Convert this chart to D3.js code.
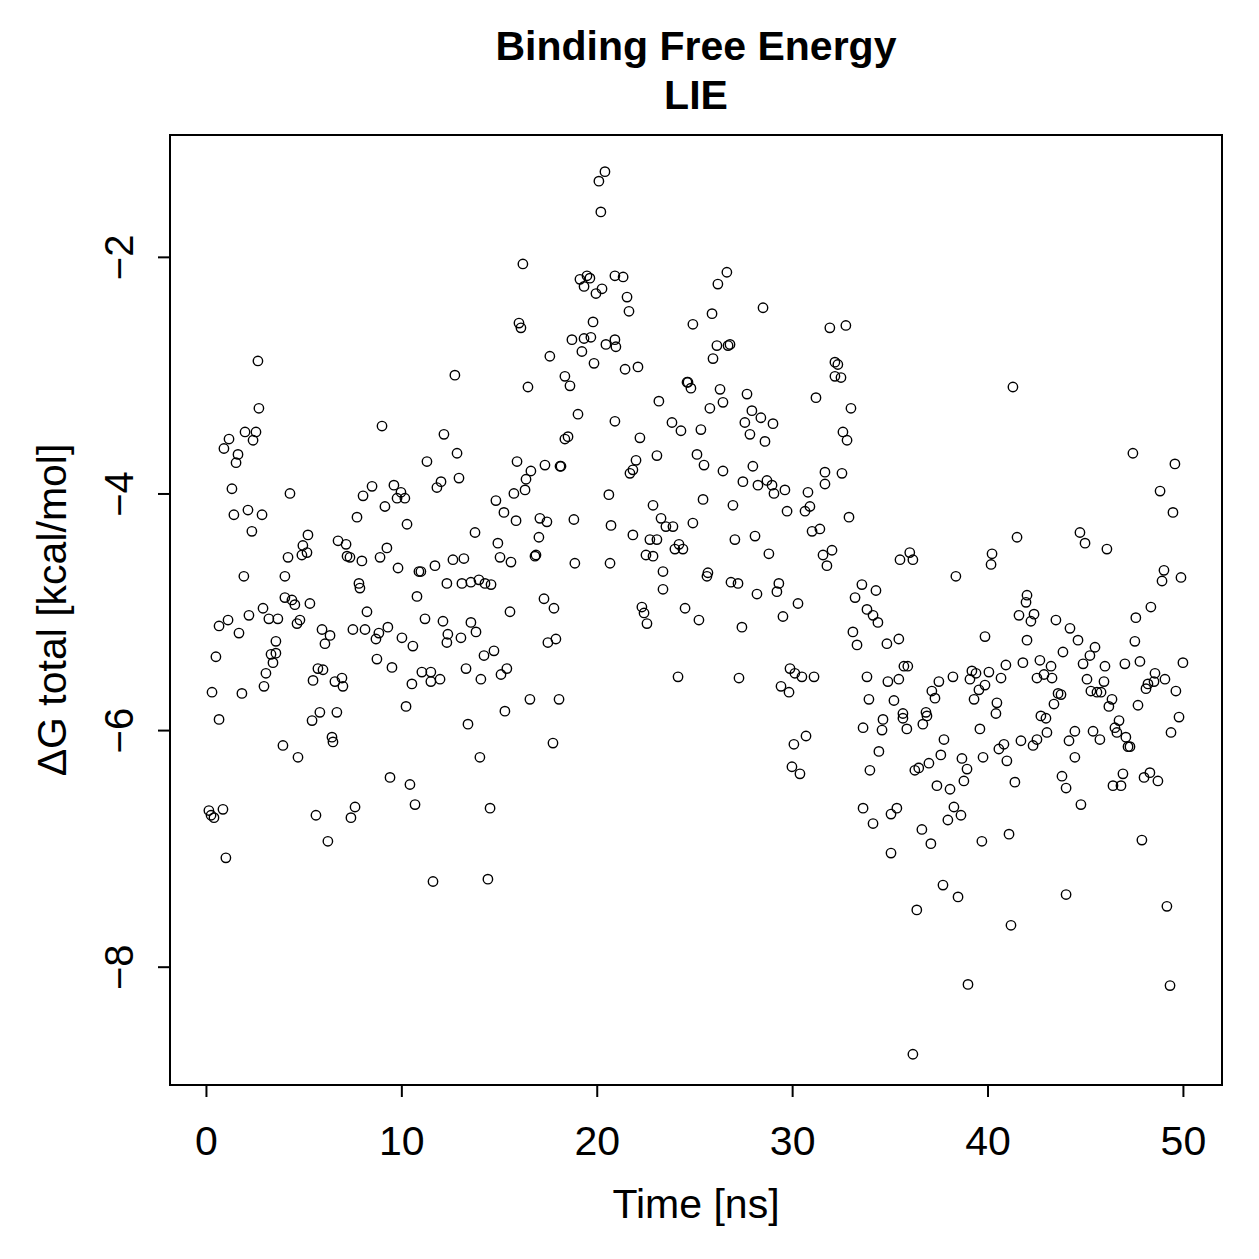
<!DOCTYPE html>
<html><head><meta charset="utf-8">
<script src="https://cdn.jsdelivr.net/npm/d3@7"></script>
<style>html,body{margin:0;padding:0;background:#fff}svg{display:block}</style>
</head><body>
<script>
const titleLines = ["Binding Free Energy", "LIE"];
const xLabel = "Time [ns]";
const yLabel = "\u0394G total [kcal/mol]";
const xTicks = [0, 10, 20, 30, 40, 50];
const yTicks = [-2, -4, -6, -8];

const time = [
0.15,0.26,0.41,0.87,1.02,0.31,0.51,0.67,0.67,0.92,1.13,1.18,1.33,1.43,1.54,1.64,1.69,1.84,1.94,2.00,2.15,2.20,2.35,2.41,2.56,2.66,2.71,2.87,2.92,2.97,3.07,3.22,3.33,3.43,3.58,3.58,3.68,
3.94,4.04,4.04,4.20,4.30,4.40,4.55,4.66,4.71,4.81,4.91,4.96,5.17,5.22,5.32,5.43,5.48,5.63,5.73,5.83,5.94,5.99,6.09,6.24,6.35,6.45,6.50,6.60,6.70,6.76,6.96,7.01,7.17,7.22,7.37,7.42,7.52,7.63,7.73,7.83,7.88,7.98,8.04,8.14,8.24,
8.50,8.70,8.75,8.85,8.91,9.01,9.16,9.26,9.31,9.42,9.52,9.62,9.78,9.83,9.98,10.03,10.18,10.24,10.29,10.44,10.54,10.59,10.70,10.80,10.90,11.00,11.05,11.21,11.31,11.51,11.51,11.62,11.72,11.82,11.98,12.03,12.13,12.18,12.33,12.38,12.33,
12.64,12.74,12.85,12.95,13.05,13.10,13.20,13.31,13.41,13.56,13.56,13.77,13.82,13.97,14.02,14.07,14.23,14.28,14.43,14.54,14.59,14.74,14.84,14.94,15.05,15.10,15.25,15.30,15.40,15.56,15.61,15.76,15.87,15.92,16.02,16.12,16.22,16.33,16.38,16.48,16.58,16.63,
16.84,16.89,17.04,17.09,17.30,17.35,17.45,17.50,17.60,17.76,17.81,17.91,18.07,18.12,18.17,18.37,18.37,18.53,18.63,18.73,18.83,18.88,19.04,19.14,19.24,19.35,19.35,19.50,19.65,19.70,19.81,19.86,19.96,20.27,20.47,20.62,20.68,20.73,20.93,20.93,20.98,20.93,
20.11,20.21,20.42,21.35,21.45,21.55,21.65,21.70,21.85,21.85,22.01,22.11,22.21,22.31,22.42,22.57,22.52,22.72,22.88,22.88,23.08,23.08,23.18,23.29,23.39,23.39,23.54,
23.85,23.90,24.00,24.16,24.21,24.31,24.41,24.52,24.62,24.67,24.82,24.92,24.92,25.13,25.23,25.33,25.44,25.49,25.64,25.69,25.79,25.90,25.95,26.15,26.20,26.31,26.46,26.46,26.66,26.72,26.82,26.87,26.97,27.07,27.23,27.28,
27.43,27.48,27.58,27.69,27.84,27.94,27.99,28.10,28.20,28.25,28.40,28.51,28.61,28.71,28.81,28.97,29.02,29.07,29.22,29.32,29.43,29.53,29.63,29.74,29.84,29.89,29.99,30.09,30.14,30.30,30.40,30.50,30.66,30.71,30.81,30.91,31.02,31.12,31.22,31.42,
31.58,31.68,31.68,31.78,31.93,32.04,32.19,32.19,32.34,32.50,32.55,32.60,32.75,32.81,32.91,33.01,33.11,33.22,33.32,33.57,33.63,33.63,33.83,33.83,33.93,33.98,34.14,34.14,34.29,34.39,34.44,34.60,34.65,34.85,34.90,35.06,35.06,35.21,35.36,35.46,35.46,35.52,35.67,35.67,35.72,
35.87,35.92,36.02,36.18,36.18,36.28,36.38,36.48,36.64,36.69,36.85,36.90,37.00,37.10,37.15,37.31,37.41,37.51,37.61,37.72,37.77,37.97,38.08,38.23,38.28,38.38,38.49,38.64,38.69,38.79,38.95,39.00,39.10,39.20,39.31,39.41,39.56,39.61,39.71,39.77,39.87,39.87,
40.07,40.18,40.23,40.43,40.48,40.58,40.69,40.84,40.94,40.99,41.10,41.20,41.30,41.40,41.51,41.61,41.71,41.81,41.97,42.02,42.02,42.22,42.33,42.38,42.53,42.53,42.68,42.73,42.89,42.99,43.04,43.25,43.30,43.40,43.50,43.61,43.76,43.81,43.86,44.02,44.02,44.17,44.22,
44.47,44.47,44.63,44.73,44.78,44.89,44.99,45.09,45.24,45.29,45.40,45.50,45.60,45.75,45.81,45.96,46.01,46.11,46.21,46.37,46.42,46.52,46.62,46.73,46.83,46.93,47.03,47.08,47.19,47.29,47.44,47.54,47.59,47.70,47.80,47.90,48.01,48.11,48.21,48.31,48.36,48.52,48.57,48.72,48.83,48.93,49.03,49.08,49.18,49.34,49.39,49.49,49.59,49.64,49.80,49.90,50.00
];

const dG = [
-6.68,-6.72,-6.74,-6.67,-7.08,-5.68,-5.38,-5.12,-5.91,-3.62,-5.07,-3.54,-3.96,-4.18,-3.74,-3.67,-5.18,-5.69,-4.70,-3.48,-4.14,-5.03,-4.32,-3.55,-3.48,-2.88,-3.28,-4.18,-4.97,-5.63,-5.52,-5.06,-5.36,-5.43,-5.35,-5.25,-5.06,
-6.13,-4.70,-4.88,-4.54,-4.00,-4.90,-4.94,-5.10,-6.23,-5.07,-4.52,-4.44,-4.50,-4.35,-4.93,-5.92,-5.58,-6.72,-5.48,-5.85,-5.15,-5.49,-5.27,-6.94,-5.20,-6.06,-6.10,-5.59,-5.85,-4.40,-5.56,-5.63,-4.43,-4.53,-4.54,-6.74,-5.15,-6.65,-4.20,-4.76,-4.80,-4.57,-4.02,-5.15,-5.00,
-3.94,-5.23,-5.40,-5.18,-4.54,-3.43,-4.11,-4.46,-5.13,-6.40,-5.47,-3.93,-4.04,-4.63,-3.99,-5.22,-4.04,-5.80,-4.26,-6.46,-5.61,-5.29,-6.63,-4.87,-4.66,-4.66,-5.51,-5.06,-3.73,-5.51,-5.59,-7.28,-4.61,-3.95,-5.57,-3.90,-5.08,-3.50,-4.76,-5.19,-5.26,
-4.56,-3.00,-3.66,-3.87,-5.22,-4.76,-4.55,-5.48,-5.95,-4.75,-5.09,-4.33,-5.17,-4.73,-6.23,-5.57,-5.37,-4.76,-7.26,-6.66,-4.77,-5.33,-4.06,-4.42,-4.54,-5.53,-4.16,-5.84,-5.48,-5.00,-4.58,-4.00,-4.23,-3.73,-2.56,-2.60,-2.06,-3.97,-3.88,-3.10,-5.74,-3.81,
-4.53,-4.52,-4.37,-4.21,-4.89,-3.76,-4.24,-5.26,-2.84,-6.11,-4.97,-5.23,-5.74,-3.77,-3.77,-3.01,-3.54,-3.52,-3.09,-2.70,-4.22,-4.59,-3.33,-2.19,-2.80,-2.25,-2.69,-2.16,-2.18,-2.68,-2.55,-2.90,-2.31,-2.27,-2.74,-4.01,-4.59,-4.27,-2.16,-2.70,-2.76,-3.39,
-1.36,-1.62,-1.28,-2.17,-2.95,-2.34,-2.46,-3.83,-3.80,-4.35,-3.72,-2.93,-3.53,-4.96,-5.01,-5.10,-4.52,-4.39,-4.10,-4.53,-3.68,-4.39,-3.22,-4.21,-4.66,-4.81,-4.28,
-3.40,-4.28,-4.47,-5.55,-4.43,-3.47,-4.47,-4.97,-3.06,-3.06,-3.11,-2.57,-4.25,-3.67,-5.07,-3.46,-4.05,-3.76,-4.70,-4.67,-3.28,-2.48,-2.86,-2.75,-2.23,-3.12,-3.23,-3.81,-2.13,-2.75,-2.74,-4.75,-4.10,-4.39,-4.76,-5.56,
-5.13,-3.90,-3.40,-3.16,-3.50,-3.30,-3.77,-4.36,-4.85,-3.93,-3.36,-2.43,-3.56,-3.89,-4.51,-3.93,-3.41,-4.00,-4.83,-4.76,-5.63,-5.04,-3.97,-4.15,-5.68,-5.48,-6.31,-6.12,-5.52,-4.93,-6.37,-5.55,-4.15,-6.05,-3.99,-4.11,-4.32,-5.55,-3.19,-4.30,
-4.52,-3.82,-3.92,-4.61,-2.60,-4.48,-2.89,-3.01,-2.91,-3.02,-3.83,-3.48,-2.58,-3.55,-4.20,-3.28,-5.17,-4.88,-5.28,-4.77,-5.98,-6.66,-4.98,-5.55,-5.74,-6.34,-5.03,-6.79,-4.82,-5.09,-6.18,-6.00,-5.91,-5.27,-5.59,-6.71,-7.04,-5.75,-6.66,-5.23,-5.57,-4.56,-5.86,-5.90,-5.46,
-5.99,-5.46,-4.50,-4.56,-8.74,-6.34,-7.52,-6.32,-6.84,-5.95,-5.85,-5.88,-6.28,-6.96,-5.67,-5.73,-6.47,-5.59,-6.21,-7.31,-6.08,-6.76,-6.50,-5.55,-6.65,-4.70,-7.41,-6.72,-6.24,-6.43,-6.33,-8.15,-5.57,-5.50,-5.74,-5.52,-5.66,-5.99,-6.94,-6.23,-5.21,-5.62,
-5.51,-4.60,-4.51,-5.86,-5.77,-6.16,-5.56,-6.12,-5.45,-6.26,-6.88,-7.65,-3.10,-6.44,-4.37,-5.03,-6.09,-5.43,-4.92,-4.86,-5.24,-5.08,-6.13,-5.02,-5.56,-6.08,-5.41,-5.88,-5.53,-5.90,-6.02,-5.46,-5.56,-5.78,-5.07,-5.69,-5.70,-6.39,-5.34,-6.49,-7.39,-6.09,-5.14,
-6.01,-6.23,-5.24,-4.33,-6.63,-5.44,-4.42,-5.57,-5.37,-5.67,-6.01,-5.30,-5.68,-6.08,-5.68,-5.59,-5.46,-4.47,-5.80,-5.74,-6.47,-5.98,-6.02,-5.92,-6.47,-6.37,-5.44,-6.06,-6.14,-6.14,-3.66,-5.25,-5.05,-5.79,-5.42,-6.93,-6.40,-5.65,-5.61,-6.36,-4.96,-5.59,-5.52,-6.43,-3.98,-4.74,-4.65,-5.57,-7.49,-8.16,-6.02,-4.16,-3.75,-5.67,-5.89,-4.71,-5.43
];

const W = 1259, H = 1259;
const box = {left: 170, right: 1222, top: 135, bottom: 1085};
const font = "Liberation Sans, Arial, Helvetica, sans-serif";

const svg = d3.select("body").append("svg").attr("width", W).attr("height", H)
  .style("font-family", font);

const x = d3.scaleLinear().domain([-1.84, 52.0]).range([box.left, box.right]);
const y = d3.scaleLinear().domain([-9.0, -0.97]).range([box.bottom, box.top]);

const data = time.map((t, i) => ({t, v: dG[i]}));

// points
svg.append("g").selectAll("circle").data(data).join("circle")
  .attr("cx", d => x(d.t)).attr("cy", d => y(d.v)).attr("r", 4.7)
  .attr("fill", "none").attr("stroke", "#000").attr("stroke-width", 1.4);

// box
svg.append("rect").attr("x", box.left).attr("y", box.top)
  .attr("width", box.right - box.left).attr("height", box.bottom - box.top)
  .attr("fill", "none").attr("stroke", "#000").attr("stroke-width", 2);

// x axis
const xAxis = d3.axisBottom(x).tickValues(xTicks).tickSize(12).tickSizeOuter(0).tickPadding(8);
const gx = svg.append("g").attr("transform", `translate(0,${box.bottom})`).call(xAxis);
gx.select(".domain").attr("d", `M${x(0)},0H${x(50)}`).attr("stroke-width", 2);
gx.selectAll(".tick line").attr("stroke-width", 2);
gx.selectAll(".tick text").attr("font-size", 41).attr("font-family", font).attr("fill", "#000")
  .attr("dy", null).attr("y", 70);

// y axis
const yAxis = d3.axisLeft(y).tickValues(yTicks).tickSize(12).tickSizeOuter(0);
const gy = svg.append("g").attr("transform", `translate(${box.left},0)`).call(yAxis);
gy.select(".domain").attr("d", `M0,${y(-2)}V${y(-8)}`).attr("stroke-width", 2);
gy.selectAll(".tick line").attr("stroke-width", 2);
gy.selectAll(".tick text").attr("font-size", 40).attr("font-family", font).attr("fill", "#000")
  .attr("x", null).attr("dy", null)
  .attr("text-anchor", "middle")
  .attr("transform", "translate(-37,0) rotate(-90)");

// titles
svg.append("g").selectAll("text").data(titleLines).join("text")
  .attr("x", (box.left + box.right) / 2).attr("y", (d, i) => 60 + i * 49)
  .attr("text-anchor", "middle").attr("font-weight", "bold").attr("font-size", 41)
  .text(d => d);

svg.append("text").attr("x", (box.left + box.right) / 2).attr("y", 1218)
  .attr("text-anchor", "middle").attr("font-size", 41).text(xLabel);

svg.append("text").attr("transform", `translate(66,${(box.top + box.bottom) / 2}) rotate(-90)`)
  .attr("text-anchor", "middle").attr("font-size", 41).text(yLabel);
</script>
</body></html>
